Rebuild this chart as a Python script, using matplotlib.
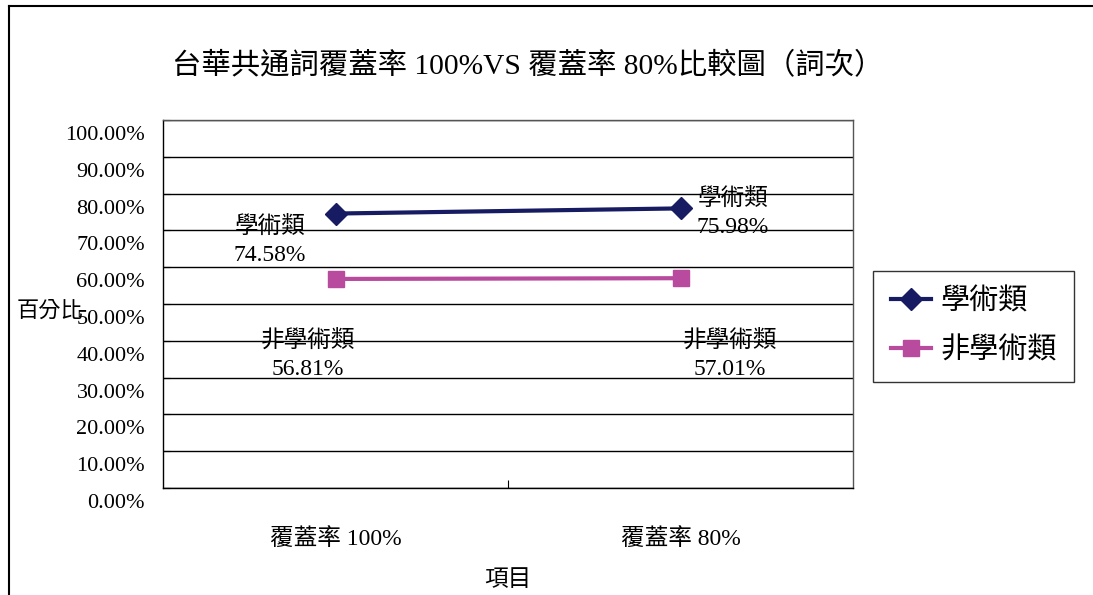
import matplotlib.pyplot as plt
from matplotlib.lines import Line2D
from matplotlib.transforms import ScaledTranslation

plt.rcParams['font.family'] = ['Liberation Serif', 'Noto Sans CJK TC', 'DejaVu Sans']

# Data
categories = ['覆蓋率 100%', '覆蓋率 80%']
series_names = ['學術類', '非學術類']
academic = [74.58, 75.98]
non_academic = [56.81, 57.01]
yticks = [0, 10, 20, 30, 40, 50, 60, 70, 80, 90, 100]

navy = '#161b62'
magenta = '#b84b9e'

fig = plt.figure(figsize=(10.93, 5.95), dpi=100)

# outer chart frame (left and top edges)
fig.add_artist(Line2D([9 / 1093, 9 / 1093], [0, 1 - 6 / 595], color='black', lw=1.5))
fig.add_artist(Line2D([9 / 1093, 1], [1 - 6 / 595, 1 - 6 / 595], color='black', lw=1.5))

ax = fig.add_axes([163 / 1093, 1 - 488 / 595, 690 / 1093, 368 / 595])

x = [0.5, 1.5]
ax.plot(x, academic, color=navy, lw=3, marker='D', markersize=11, label=series_names[0])
ax.plot(x, non_academic, color=magenta, lw=3, marker='s', markersize=12, label=series_names[1])

ax.set_xlim(0, 2)
ax.set_ylim(0, 100)
ax.set_yticks(yticks)
ax.set_yticklabels([f'{v:.2f}%' for v in yticks], fontsize=16)
ax.yaxis.grid(True, color='black', lw=1)
ax.set_axisbelow(True)
ax.tick_params(axis='y', length=5, direction='in', pad=13)
# tick labels sit a little below their gridlines
shift = ScaledTranslation(0, -0.13, fig.dpi_scale_trans)
for lbl in ax.get_yticklabels():
    lbl.set_transform(lbl.get_transform() + shift)
ax.set_xticks([1])
ax.set_xticklabels([''])
ax.tick_params(axis='x', length=6, direction='in')
for s in ax.spines.values():
    s.set_color('#555555')
    s.set_linewidth(1)
ax.spines['left'].set_color('black')
ax.spines['bottom'].set_color('black')

# category labels under the axis
for xi, c in zip(x, categories):
    ax.text(xi, -13.8, c, ha='center', va='center', fontsize=17)

# value labels
lab_kw = dict(ha='center', va='center', fontsize=17, linespacing=1.45)
ax.text(0.31, 67.1, f'{series_names[0]}\n{academic[0]:.2f}%', **lab_kw)
ax.text(1.652, 74.7, f'{series_names[0]}\n{academic[1]:.2f}%', **lab_kw)
ax.text(0.42, 36.1, f'{series_names[1]}\n{non_academic[0]:.2f}%', **lab_kw)
ax.text(1.643, 36.1, f'{series_names[1]}\n{non_academic[1]:.2f}%', **lab_kw)

fig.text(528 / 1093, 1 - 66 / 595, '台華共通詞覆蓋率 100%VS 覆蓋率 80%比較圖（詞次）',
         ha='center', va='center', fontsize=21.2)
fig.text(50 / 1093, 1 - 312 / 595, '百分比', ha='center', va='center', fontsize=16)
fig.text(508 / 1093, 1 - 580 / 595, '項目', ha='center', va='center', fontsize=17)

leg = fig.legend(loc='upper left', bbox_to_anchor=(873 / 1093, 1 - 271 / 595),
                 fontsize=21, frameon=True, fancybox=False, edgecolor='black',
                 handlelength=1.4, borderpad=0.6, labelspacing=0.75, handletextpad=0.3,
                 borderaxespad=0)
leg.get_frame().set_linewidth(1)

fig.savefig('out.png', dpi=100)
